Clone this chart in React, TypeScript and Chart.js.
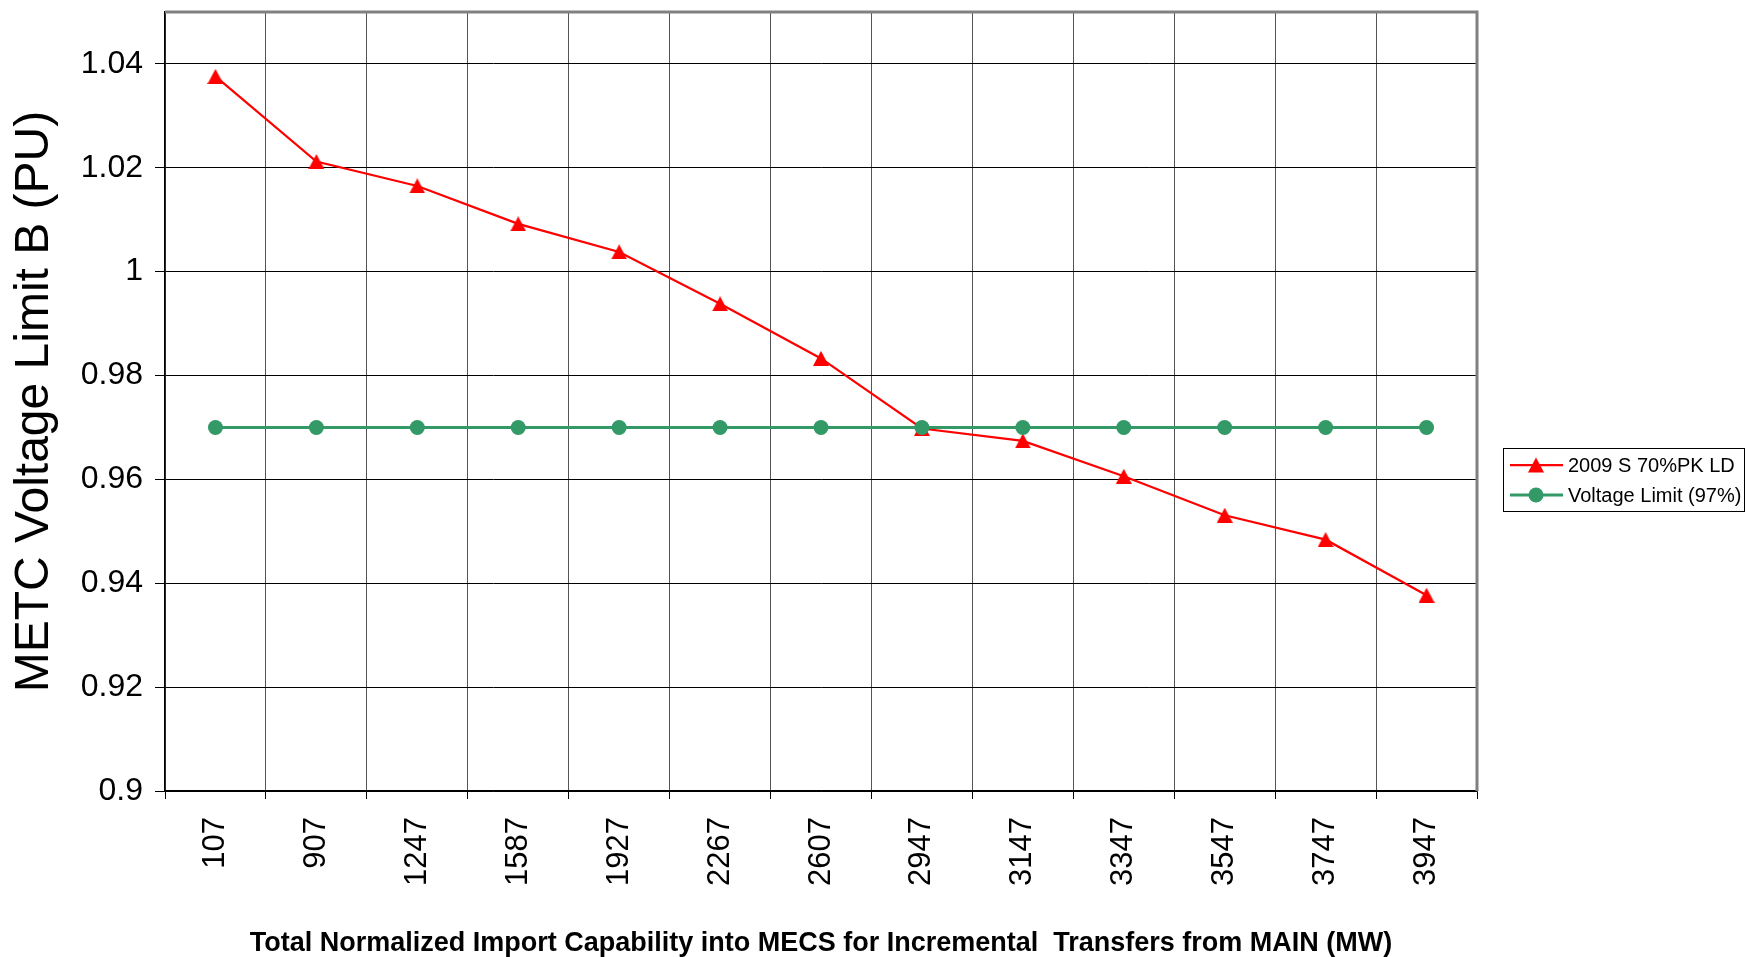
import React, { useEffect, useRef } from "react";
import { Chart, registerables } from "chart.js";

Chart.register(...registerables);

const categories = ["107", "907", "1247", "1587", "1927", "2267", "2607", "2947", "3147", "3347", "3547", "3747", "3947"];
const loadSeries = [1.0376, 1.0212, 1.0165, 1.0092, 1.0038, 0.9938, 0.9833, 0.9698, 0.9674, 0.9606, 0.9531, 0.9484, 0.9377];
const limitSeries = [0.97, 0.97, 0.97, 0.97, 0.97, 0.97, 0.97, 0.97, 0.97, 0.97, 0.97, 0.97, 0.97];
const seriesNames = ["2009 S 70%PK LD", "Voltage Limit (97%)"];
const yTitle = "METC Voltage Limit B (PU)";
const xTitle = "Total Normalized Import Capability into MECS for Incremental  Transfers from MAIN (MW)";

const FONT = "'Liberation Sans', Arial, Helvetica, sans-serif";
const RED = "#ff0000";
const GREEN = "#339966";

const W = 1746;
const H = 957;

function makeTriangle(w: number, h: number, color: string) {
  const c = document.createElement("canvas");
  c.width = w;
  c.height = h;
  const ctx = c.getContext("2d")!;
  ctx.fillStyle = color;
  ctx.beginPath();
  ctx.moveTo(w / 2, 0);
  ctx.lineTo(w, h);
  ctx.lineTo(0, h);
  ctx.closePath();
  ctx.fill();
  return c;
}

const framePlugin = {
  id: "framePlugin",
  afterDraw(chart: any) {
    const ctx = chart.ctx;
    const { left, right, top, bottom } = chart.chartArea;
    ctx.save();
    ctx.strokeStyle = "#808080";
    ctx.lineWidth = 3;
    ctx.beginPath();
    ctx.moveTo(left, top);
    ctx.lineTo(right, top);
    ctx.lineTo(right, bottom);
    ctx.stroke();

    const lx = 1503, ly = 448, lw = 241, lh = 63;
    ctx.strokeStyle = "#000";
    ctx.lineWidth = 1;
    ctx.strokeRect(lx + 0.5, ly + 0.5, lw, lh);
    const rows = [
      { y: 465, color: RED, style: "triangle", lw: 2.25 },
      { y: 495, color: GREEN, style: "circle", lw: 3 },
    ];
    ctx.font = `20px ${FONT}`;
    ctx.textBaseline = "middle";
    ctx.textAlign = "left";
    rows.forEach((row, i) => {
      ctx.strokeStyle = row.color;
      ctx.lineWidth = row.lw;
      ctx.beginPath();
      ctx.moveTo(1510, row.y);
      ctx.lineTo(1563, row.y);
      ctx.stroke();
      ctx.fillStyle = row.color;
      ctx.beginPath();
      const cx = 1536;
      if (row.style === "circle") {
        ctx.arc(cx, row.y, 7.5, 0, Math.PI * 2);
      } else {
        ctx.moveTo(cx, row.y - 7.5);
        ctx.lineTo(cx + 8, row.y + 7.5);
        ctx.lineTo(cx - 8, row.y + 7.5);
        ctx.closePath();
      }
      ctx.fill();
      ctx.fillStyle = "#000";
      ctx.fillText(seriesNames[i], 1568, row.y + 1);
    });
    ctx.restore();
  },
};

export default function App() {
  const ref = useRef<HTMLCanvasElement | null>(null);

  useEffect(() => {
    document.body.style.margin = "0";
    const canvas = ref.current;
    if (!canvas) return;
    const tri = makeTriangle(16, 15, RED);
    const chart = new Chart(canvas, {
      type: "line",
      data: {
        labels: categories,
        datasets: [
          {
            label: seriesNames[0],
            data: loadSeries,
            borderColor: RED,
            backgroundColor: RED,
            borderWidth: 2.25,
            pointStyle: tri as any,
            pointRadius: 8,
            pointBorderWidth: 0,
            tension: 0,
            order: 2,
          },
          {
            label: seriesNames[1],
            data: limitSeries,
            borderColor: GREEN,
            backgroundColor: GREEN,
            borderWidth: 3,
            pointStyle: "circle",
            pointRadius: 7.5,
            pointBorderWidth: 0,
            pointBackgroundColor: GREEN,
            pointBorderColor: GREEN,
            tension: 0,
            order: 1,
          },
        ],
      },
      options: {
        responsive: false,
        animation: false,
        devicePixelRatio: 1,
        layout: { padding: { top: 12, right: W - 1477, left: 0, bottom: 0 } },
        plugins: {
          legend: { display: false },
          tooltip: { enabled: false },
        },
        scales: {
          x: {
            type: "category",
            offset: true,
            grid: {
              offset: true,
              display: true,
              color: "#555555",
              lineWidth: 1,
              drawTicks: true,
              tickLength: 8,
              tickColor: "#000",
            },
            border: { display: true, color: "#000", width: 1.5 },
            ticks: {
              autoSkip: false,
              maxRotation: 90,
              minRotation: 90,
              padding: 18,
              color: "#000",
              font: { family: FONT, size: 31 },
            },
            title: {
              display: true,
              text: xTitle,
              color: "#000",
              font: { family: FONT, size: 27, weight: "bold", lineHeight: 1.0 },
              padding: { top: 0, bottom: 0 },
            },
            afterFit(scale: any) {
              scale.height = H - 791;
              scale.paddingLeft = 0;
              scale.paddingRight = 0;
            },
          },
          y: {
            type: "linear",
            min: 0.9,
            max: 1.05,
            grid: {
              color: "#000",
              lineWidth: 1,
              drawTicks: true,
              tickLength: 10,
              tickColor: "#000",
            },
            border: { display: true, color: "#000", width: 1.5 },
            ticks: {
              stepSize: 0.02,
              padding: 12,
              color: "#000",
              font: { family: FONT, size: 32 },
              callback: (v: any) => String(Number(Number(v).toFixed(2))),
            },
            afterBuildTicks(scale: any) {
              scale.ticks = scale.ticks.filter((t: any) => t.value <= 1.0401);
            },
            title: {
              display: true,
              text: yTitle,
              color: "#000",
              font: { family: FONT, size: 48 },
              padding: { top: 6, bottom: 0 },
            },
            afterFit(scale: any) {
              scale.width = 165;
              scale.paddingTop = 0;
              scale.paddingBottom = 0;
            },
          },
        },
      },
      plugins: [framePlugin],
    });
    return () => chart.destroy();
  }, []);

  return (
    <div style={{ position: "absolute", left: 0, top: 0, width: W, height: H, background: "#fff" }}>
      <canvas ref={ref} width={W} height={H} style={{ display: "block" }} />
    </div>
  );
}
